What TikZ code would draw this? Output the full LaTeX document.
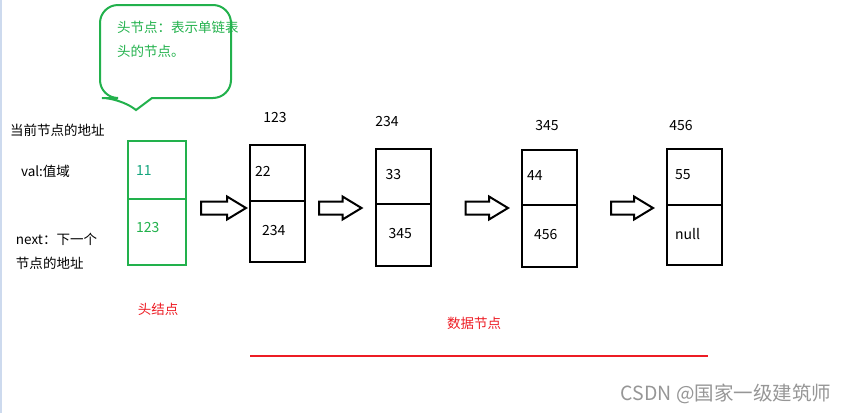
\documentclass[tikz,border=0pt]{standalone}
\usepackage{fontspec}
\setmainfont{Noto Sans CJK SC}
\usetikzlibrary{positioning,calc}
\definecolor{headgreen}{RGB}{34,177,76}
\definecolor{valteal}{RGB}{20,165,125}
\definecolor{markred}{RGB}{237,28,36}
\definecolor{wmgray}{RGB}{150,150,150}
\definecolor{edgeblue}{RGB}{205,218,238}

\begin{document}
\begin{tikzpicture}[x=1pt,y=-1pt,line width=2pt,
  cell/.style={draw,minimum width=55pt,inner sep=0pt},
  txt/.style={anchor=west,inner sep=0pt,font=\fontsize{13.5}{24}\selectfont},
  num/.style={txt,font=\fontsize{14}{24}\selectfont},
  hollow/.style={draw,line width=2pt,line join=miter,fill=white}]
\useasboundingbox (0,0) rectangle (845,413);
\draw[edgeblue,line width=1.5pt] (0.75,0) -- (0.75,413);
\coordinate (row) at (0,208);
% callout over the head node
\draw[headgreen] (136,110) -- (152,98) [rounded corners=18pt] -- (231,98) -- (231,5)
  -- (100,5) -- (100,98) -- (120,98) [sharp corners] -- cycle;
\node[txt,headgreen,align=left,anchor=north west,font=\fontsize{13.5}{24}\selectfont]
  (callout) at (116,20) {头节点：表示单链表\\头的节点。};
% captions on the left
\node[txt] (addr) at (9,130) {当前节点的地址};
\node[txt] (valcap) at (20,171) {val:值域};
\node[txt,align=left,anchor=north west] (nextcap) at (15,232) {next：下一个\\节点的地址};
% head node
\node[cell,headgreen,minimum width=58pt,minimum height=58pt] (h-val) at (157,170) {};
\node[cell,headgreen,minimum width=58pt,minimum height=66pt] (h-next) at (157,232) {};
\node[num,valteal] (h-v) at ([xshift=8pt,yshift=-1pt]h-val.west) {11};
\node[num,headgreen] (h-n) at ([xshift=8pt,yshift=4pt]h-next.west) {123};
% data nodes: x/top/split/bottom/val/next/offsets/address label
\foreach \i/\x/\t/\m/\b/\val/\nxt/\vo/\no/\adr/\ax/\ay in {
  1/277.5/145/201/262/22/234/5/12/123/275/118,
  2/403/149/204/266/33/345/10/13/234/387/122,
  3/549.5/150/205/267/44/456/5/12/345/547/126,
  4/694.5/149/205/265/55/null/8/8/456/681/126}{
  \node[cell,minimum height={(\m-\t)*1pt}] (n\i-val) at (\x,{(\t+\m)/2}) {};
  \node[cell,minimum height={(\b-\m)*1pt}] (n\i-next) at (\x,{(\m+\b)/2}) {};
  \node[num] (n\i-v) at ([xshift=\vo pt,yshift=2pt]n\i-val.west) {\val};
  \node[num] (n\i-n) at ([xshift=\no pt,yshift=1pt]n\i-next.west) {\nxt};
  \node[num,anchor=center] (n\i-adr) at (\ax,\ay) {\adr};
}
% hollow block arrows between the nodes
\def\blockarrow#1#2#3#4{%
  \draw[hollow] ($(#2.west |- row)+(-#4,0)$) coordinate (tip) -- ++(-19,-11.5) -- ++(0,5)
    -- ($(#1.east |- row)+(#3,-6.5)$) -- ++(0,13) -- ($(tip)+(-19,6.5)$) -- ++(0,5) -- cycle;}
\blockarrow{h-next}{n1-val}{14}{3}
\blockarrow{n1-next}{n2-val}{13}{13}
\blockarrow{n2-next}{n3-val}{34}{13}
\blockarrow{n3-next}{n4-val}{33}{13}
% red captions
\node[txt,markred,anchor=center] (headlbl) at (158,309) {头结点};
\node[txt,markred,anchor=center] (datalbl) at (474,323) {数据节点};
\draw[markred,line width=2.5pt] (250,356) -- (708,356);
\node[txt,wmgray,anchor=east,font=\fontsize{19.5}{22}\selectfont] (wm) at (832,394) {CSDN @国家一级建筑师};
\end{tikzpicture}
\end{document}
